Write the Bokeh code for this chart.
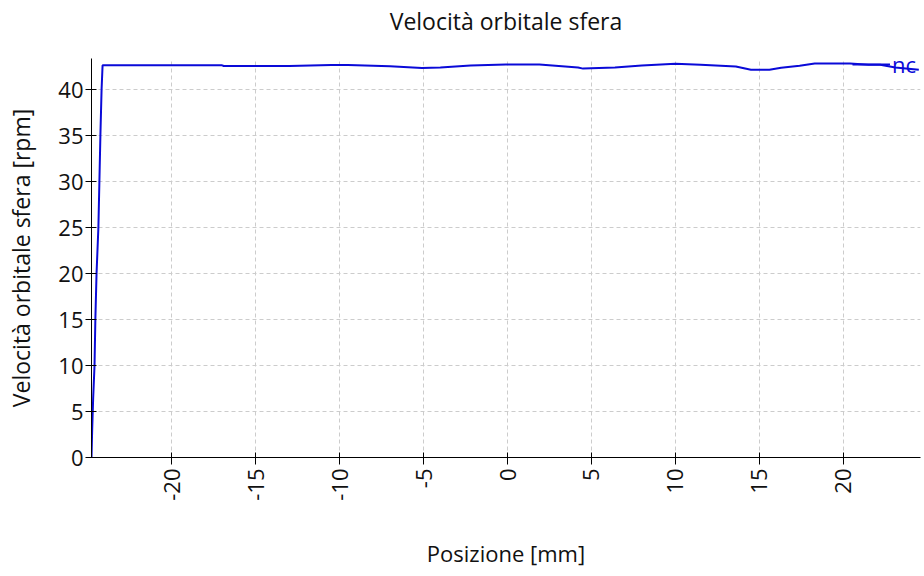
import math
from bokeh.plotting import figure
from bokeh.models import Range1d, FixedTicker, Legend, LegendItem, LinearAxis
from bokeh.embed import file_html
from bokeh.resources import INLINE

# Data
posizione_mm = [-24.78, -24.74, -24.68, -24.6, -24.55, -24.48, -24.37, -24.31, -24.25, -24.18, -24.12,
                -17.0, -16.9, -13.0, -10.5, -9.5, -7.0, -5.1, -4.0, -2.2, -0.1, 1.9,
                4.2, 4.5, 6.4, 8.0, 10.0, 11.5, 13.6, 14.5, 15.6, 16.3, 17.4, 18.3,
                20.4, 21.5, 22.2, 23.1, 24.5]
velocita_rpm = [0.0, 3.0, 6.5, 10.0, 15.0, 20.0, 25.0, 30.0, 35.0, 40.0, 42.66,
                42.66, 42.58, 42.58, 42.68, 42.68, 42.55, 42.36, 42.42, 42.64, 42.75, 42.74,
                42.42, 42.3, 42.42, 42.64, 42.83, 42.72, 42.53, 42.17, 42.17, 42.39, 42.61, 42.86,
                42.86, 42.72, 42.72, 42.42, 42.17]
x_ticks = [-20, -15, -10, -5, 0, 5, 10, 15, 20]
y_ticks = [0, 5, 10, 15, 20, 25, 30, 35, 40]
series_label = "nc"
chart_title = "Velocità orbitale sfera"

FONT = "Open Sans"
BLUE = "#0a0ad8"

p = figure(width=924, height=576, output_backend="svg", toolbar_location=None,
           x_range=Range1d(-24.78, 24.6), y_range=Range1d(0, 43.4),
           min_border_left=91, min_border_right=4, min_border_top=58, min_border_bottom=119)

p.outline_line_color = None

bottom_axis = p.below[0]
left_axis = p.left[0]

# Title drawn as the label of a bare axis above the frame (gives exact vertical placement)
title_axis = LinearAxis(ticker=FixedTicker(ticks=[]), axis_label=chart_title,
                        axis_line_color=None, major_tick_line_color=None, minor_tick_line_color=None,
                        major_tick_in=0, major_tick_out=0, major_label_text_font_size="0px",
                        axis_label_text_font=FONT, axis_label_text_font_size="23px",
                        axis_label_text_font_style="normal", axis_label_text_color="#111111",
                        axis_label_standoff=22)
p.add_layout(title_axis, "above")

r = p.line(posizione_mm, velocita_rpm, line_color=BLUE, line_width=2)

for ax in (bottom_axis, left_axis):
    ax.axis_line_color = "#000000"
    ax.major_tick_line_color = "#000000"
    ax.minor_tick_line_color = None
    ax.major_label_text_font = FONT
    ax.major_label_text_font_size = "22px"
    ax.major_label_text_color = "#111111"
    ax.axis_label_text_font = FONT
    ax.axis_label_text_font_style = "normal"
    ax.axis_label_text_color = "#111111"

bottom_axis.axis_label_text_font_size = "22px"
left_axis.axis_label_text_font_size = "23px"
bottom_axis.ticker = FixedTicker(ticks=x_ticks)
left_axis.ticker = FixedTicker(ticks=y_ticks)
bottom_axis.major_label_overrides = {t: str(t) for t in x_ticks}
bottom_axis.major_label_orientation = math.pi / 2
bottom_axis.major_tick_in = 5
bottom_axis.major_tick_out = 7
left_axis.major_tick_in = 5
left_axis.major_tick_out = 6
bottom_axis.major_label_standoff = 4
left_axis.major_label_standoff = 2
bottom_axis.axis_label = "Posizione [mm]"
left_axis.axis_label = "Velocità orbitale sfera [rpm]"
bottom_axis.axis_label_standoff = 34
left_axis.axis_label_standoff = 18

p.xgrid.grid_line_color = "#cccccc"
p.ygrid.grid_line_color = "#cccccc"
p.xgrid.grid_line_dash = "4 3"
p.ygrid.grid_line_dash = "4 3"
p.xgrid.ticker = FixedTicker(ticks=x_ticks)
p.ygrid.ticker = FixedTicker(ticks=y_ticks)

legend = Legend(items=[LegendItem(label=series_label, renderers=[r])],
                location=(761, 378), padding=0, margin=0, spacing=0,
                glyph_width=38, glyph_height=6, label_height=20, label_width=20,
                label_standoff=2, background_fill_alpha=0, border_line_color=None,
                label_text_font=FONT, label_text_font_size="22px", label_text_color=BLUE)
p.add_layout(legend)

open("out.html", "w").write(file_html(p, INLINE))
